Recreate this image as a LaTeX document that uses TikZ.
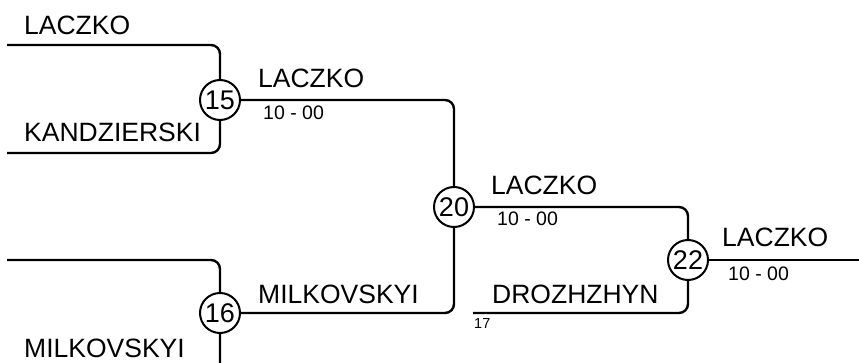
\documentclass[tikz,border=0pt]{standalone}
\usepackage{fontspec}
\setmainfont{Liberation Sans}
\begin{document}
\begin{tikzpicture}[x=1pt,y=-1pt,
  wire/.style={line width=2.4pt, rounded corners=9pt},
  seedcircle/.style={circle, draw, line width=2pt, minimum size=40pt, inner sep=0pt, fill=white, font=\fontsize{27}{30}\selectfont},
  playername/.style={anchor=base west, inner sep=0pt, font=\fontsize{26.5}{30}\selectfont},
  scorelabel/.style={anchor=base west, inner sep=0pt, font=\fontsize{19.5}{22}\selectfont},
  smallnum/.style={anchor=base west, inner sep=0pt, font=\fontsize{14.5}{16}\selectfont}]
\useasboundingbox (0,0) rectangle (859,363);
\clip (0,0) rectangle (859,363);
% seeds
\node[seedcircle] (c15) at (220,100) {15};
\node[seedcircle] (c16) at (220,313) {16};
\node[seedcircle] (c20) at (454,207) {20};
\node[seedcircle] (c22) at (688,260) {22};
% free ends
\coordinate (t1) at (7,45);
\coordinate (t2) at (7,153);
\coordinate (t3) at (7,260);
\coordinate (t4) at (7,375);
\coordinate (d17) at (473,313);
\coordinate (out) at (870,260);
% connectors
\draw[wire] (t1) -| (c15.north);
\draw[wire] (t2) -| (c15.south);
\draw[wire] (t3) -| (c16.north);
\draw[wire] (t4) -| (c16.south);
\draw[wire] (c15.east) -| (c20.north);
\draw[wire] (c16.east) -| (c20.south);
\draw[wire] (c20.east) -| (c22.north);
\draw[wire] (d17) -| (c22.south);
\draw[wire] (c22.east) -- (out);
% labels
\node[playername] (n1) at (24,35) {LACZKO};
\node[playername] (n2) at (24,142) {KANDZIERSKI};
\node[playername] (n3) at (258,88) {LACZKO};
\node[scorelabel] (s3) at (263,120) {10 - 00};
\node[playername] (n4) at (24,357) {MILKOVSKYI};
\node[playername] (n5) at (258,303) {MILKOVSKYI};
\node[playername] (n6) at (491,195) {LACZKO};
\node[scorelabel] (s6) at (497,226) {10 - 00};
\node[playername] (n7) at (492,303) {DROZHZHYN};
\node[smallnum] (n8) at (474,328) {17};
\node[playername] (n9) at (722,247) {LACZKO};
\node[scorelabel] (s9) at (728,280) {10 - 00};
\end{tikzpicture}
\end{document}
